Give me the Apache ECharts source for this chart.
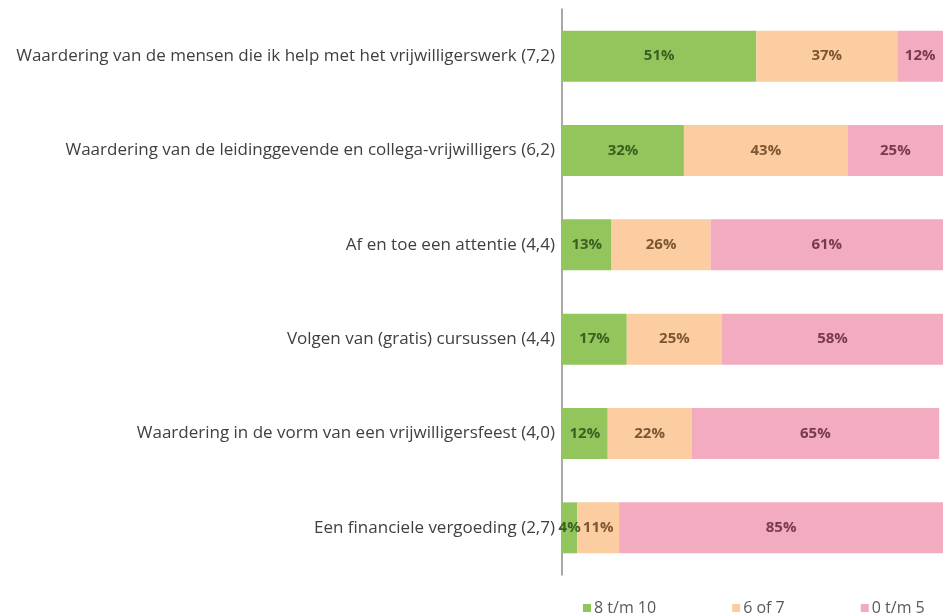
<!DOCTYPE html>
<html><head><meta charset="utf-8">
<script src="https://cdn.jsdelivr.net/npm/echarts@6/dist/echarts.min.js"></script>
<style>html,body{margin:0;padding:0;background:#fff}#c{width:952px;height:616px}</style>
</head><body><div id="c"></div>
<script>
const categories = [
  "Waardering van de mensen die ik help met het vrijwilligerswerk (7,2)",
  "Waardering van de leidinggevende en collega-vrijwilligers (6,2)",
  "Af en toe een attentie (4,4)",
  "Volgen van (gratis) cursussen (4,4)",
  "Waardering in de vorm van een vrijwilligersfeest (4,0)",
  "Een financiele vergoeding (2,7)"
];
const seriesNames = ["8 t/m 10", "6 of 7", "0 t/m 5"];
const high = [51, 32, 13, 17, 12, 4];
const mid = [37, 43, 26, 25, 22, 11];
const low = [12, 25, 61, 58, 65, 85];

const colors = ["#92c65c", "#fbcda1", "#f3abbf"];
const labelColors = ["#3c5f20", "#7d5632", "#7a3a4e"];
const values = [high, mid, low];

const chart = echarts.init(document.getElementById('c'));
chart.setOption({
  animation: false,
  backgroundColor: '#fff',
  textStyle: { fontFamily: 'Open Sans' },
  grid: { left: 562, right: 9, top: 9, bottom: 41, containLabel: false },
  xAxis: { type: 'value', min: 0, max: 100, show: false },
  yAxis: {
    type: 'category', data: categories, inverse: true,
    axisLine: { show: true, lineStyle: { color: '#8c8c8c', width: 1.5 } },
    axisTick: { show: false },
    axisLabel: { color: '#404040', fontSize: 17, margin: 7, fontFamily: 'Open Sans' }
  },
  legend: {
    left: 578, top: 595, itemWidth: 8, itemHeight: 8, itemGap: 76,
    icon: 'rect',
    textStyle: { color: '#595959', fontSize: 16, fontFamily: 'Open Sans', padding: [0, 0, 0, -2] },
    data: seriesNames
  },
  series: values.map((v, i) => ({
    name: seriesNames[i], type: 'bar', stack: 'total', data: v,
    barCategoryGap: '46%',
    itemStyle: { color: colors[i] },
    label: {
      show: true, position: 'inside', formatter: '{c}%',
      color: labelColors[i], fontSize: 15, fontWeight: 'bold', fontFamily: 'Open Sans'
    }
  }))
});
</script></body></html>
